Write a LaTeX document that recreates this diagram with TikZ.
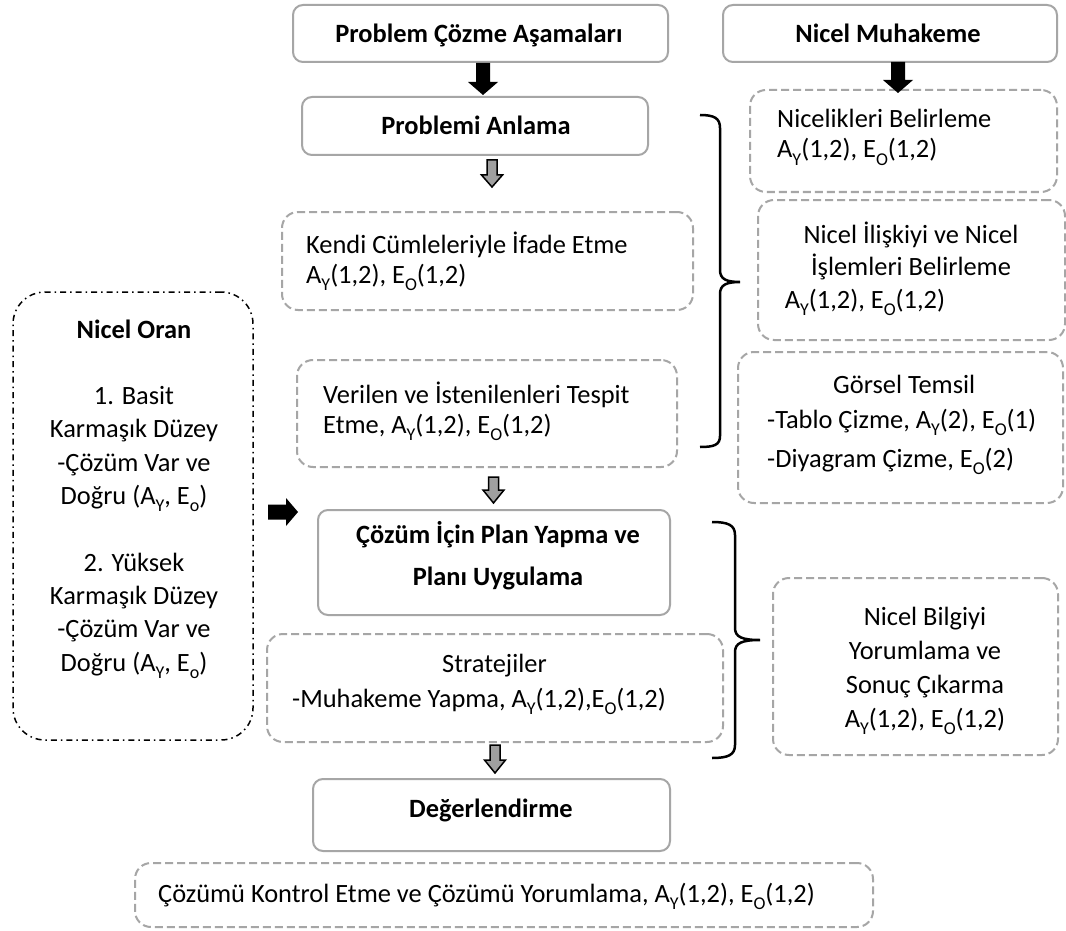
\documentclass[tikz,border=0pt]{standalone}
\usepackage{fontspec}
\setmainfont{Carlito}
\definecolor{boxgray}{RGB}{166,166,166}
\definecolor{arrgray}{RGB}{160,160,160}
\newcommand\subY{\raisebox{-7pt}{\fontsize{18}{18}\selectfont Y}}
\newcommand\subO{\raisebox{-7pt}{\fontsize{18}{18}\selectfont O}}
\newcommand\subo{\raisebox{-7pt}{\fontsize{18}{18}\selectfont o}}
\begin{document}
\begin{tikzpicture}[x=1pt,y=-1pt,
  every node/.style={font=\fontsize{26.4}{30}\selectfont, inner sep=0pt},
  solidbox/.style={draw=boxgray, line width=2pt, rounded corners=10pt},
  dashbox/.style={draw=boxgray, line width=2pt, rounded corners=16pt, dash pattern=on 8pt off 4pt},
  dotbox/.style={draw=black, line width=1.5pt, rounded corners=32pt, dash pattern=on 6pt off 4pt on 1.5pt off 4pt},
  brace/.style={draw=black, line width=2.5pt},
  blackarr/.style={fill=black},
  grayarr/.style={fill=arrgray, draw=black, line width=1.5pt, line join=miter},
]
\fill[white] (0,0) rectangle (1066,931);
\useasboundingbox (0,0) rectangle (1066,931);

% boxes
\node[solidbox, minimum width=375pt, minimum height=57pt] (pca) at (480.5,33.5) {};
\node[solidbox, minimum width=334pt, minimum height=57pt] (nm) at (890,33.5) {};
\node[solidbox, minimum width=346pt, minimum height=58pt] (pa) at (475,126) {};
\node[dashbox, minimum width=307pt, minimum height=102pt] (nb) at (903.5,141) {};
\node[dashbox, minimum width=411pt, minimum height=98pt] (kendi) at (487.5,261) {};
\node[dashbox, minimum width=380pt, minimum height=107pt] (ver) at (487,413.5) {};
\node[dashbox, minimum width=307pt, minimum height=140pt] (nil) at (911.5,270) {};
\node[dashbox, minimum width=325pt, minimum height=151pt] (gor) at (900.5,427.5) {};
\node[dotbox, minimum width=240pt, minimum height=448pt] (oran) at (133,516) {};
\node[solidbox, minimum width=352pt, minimum height=105pt] (plan) at (494,562.5) {};
\node[dashbox, minimum width=456pt, minimum height=108pt] (strat) at (495,688) {};
\node[dashbox, minimum width=285pt, minimum height=177pt] (nbyr) at (915.5,666.5) {};
\node[solidbox, minimum width=357pt, minimum height=72pt] (deg) at (491.5,815) {};
\node[dashbox, minimum width=738pt, minimum height=64pt] (ck) at (504,895) {};

% texts (anchor base = baseline of the last line)
\node[anchor=base] (t-pca) at (479,43) {\textbf{Problem Çözme Aşamaları}};
\node[anchor=base] (t-nm) at (888,43) {\textbf{Nicel Muhakeme}};
\node[anchor=base] (t-pa) at (476,135) {\textbf{Problemi Anlama}};
\node[anchor=base west, align=left] (t-nb) at (777,158) {Nicelikleri Belirleme\\A\subY(1,2), E\subO(1,2)};
\node[anchor=base west, align=left] (t-kendi) at (306,283) {Kendi Cümleleriyle İfade Etme\\A\subY(1,2), E\subO(1,2)};
\node[anchor=base west, align=left] (t-ver) at (323,433) {Verilen ve İstenilenleri Tespit\\Etme, A\subY(1,2), E\subO(1,2)};
\node[anchor=base, align=center, font=\fontsize{26.4}{32.5}\selectfont] (t-nil) at (911,308) {Nicel İlişkiyi ve Nicel\\İşlemleri Belirleme\\A\subY(1,2), E\subO(1,2)\hspace*{92pt}\mbox{}};
\node[anchor=base west, align=left, font=\fontsize{26.4}{35}\selectfont] (t-gor) at (767,467) {\hspace*{66pt}Görsel Temsil\\-Tablo Çizme, A\subY(2), E\subO(1)\\[4pt]-Diyagram Çizme, E\subO(2)};
\node[anchor=base, align=center, font=\fontsize{26.4}{33.3}\selectfont] (t-oran) at (134,671) {\textbf{Nicel Oran}\\[33.3pt]1. Basit\\Karmaşık Düzey\\-Çözüm Var ve\\Doğru (A\subY, E\subo)\\[33.3pt]2. Yüksek\\Karmaşık Düzey\\-Çözüm Var ve\\Doğru (A\subY, E\subo)};
\node[anchor=base, align=center] (t-plan) at (498,585) {\textbf{Çözüm İçin Plan Yapma ve}\\[12pt]\textbf{Planı Uygulama}};
\node[anchor=base west, align=left, font=\fontsize{26.4}{35}\selectfont] (t-strat) at (292,707) {\hspace*{150pt}Stratejiler\\-Muhakeme Yapma, A\subY(1,2),E\subO(1,2)};
\node[anchor=base, align=center, font=\fontsize{26.4}{34}\selectfont] (t-nbyr) at (925,727) {Nicel Bilgiyi\\Yorumlama ve\\Sonuç Çıkarma\\A\subY(1,2), E\subO(1,2)};
\node[anchor=base] (t-deg) at (491,817) {\textbf{Değerlendirme}};
\node[anchor=base west] (t-ck) at (158,902) {Çözümü Kontrol Etme ve Çözümü Yorumlama, A\subY(1,2), E\subO(1,2)};

% black block arrows
\path[blackarr, shift={(483,63)}] (-7,0) -- (7,0) -- (7,19) -- (15,19) -- (0,32) -- (-15,19) -- (-7,19) -- cycle;
\path[blackarr, shift={(898,62)}] (-7,0) -- (7,0) -- (7,18) -- (15,18) -- (0,31) -- (-15,18) -- (-7,18) -- cycle;
\path[blackarr, shift={(268,512)}] (0,-7.5) -- (18,-7.5) -- (18,-14) -- (30,0) -- (18,14) -- (18,7.5) -- (0,7.5) -- cycle;
% gray block arrows
\path[grayarr, shift={(492,160)}] (-5,0) -- (5,0) -- (5,15) -- (10.5,15) -- (0,27) -- (-10.5,15) -- (-5,15) -- cycle;
\path[grayarr, shift={(493.5,477)}] (-5,0) -- (5,0) -- (5,13) -- (10.5,13) -- (0,26) -- (-10.5,13) -- (-5,13) -- cycle;
\path[grayarr, shift={(495,745)}] (-5,0) -- (5,0) -- (5,15) -- (10.5,15) -- (0,28) -- (-10.5,15) -- (-5,15) -- cycle;

% braces
\draw[brace] (700,115) .. controls (714,115) and (720,118) .. (720,128) -- (720,270)
  .. controls (720,279) and (726,282) .. (740,282)
  .. controls (726,282) and (720,285) .. (720,294) -- (720,436)
  .. controls (720,445) and (714,447) .. (700,447);
\draw[brace] (712,522) .. controls (728,522) and (735,525) .. (735,535) -- (735,628)
  .. controls (735,637) and (742,640) .. (760,640)
  .. controls (742,640) and (735,643) .. (735,652) -- (735,745)
  .. controls (735,755) and (728,758) .. (712,758);
\end{tikzpicture}
\end{document}
